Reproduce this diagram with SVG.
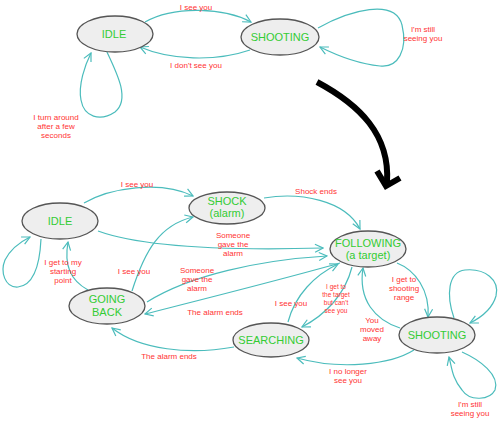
<svg xmlns="http://www.w3.org/2000/svg" width="500" height="429" viewBox="0 0 500 429">
<style>
.node{fill:#eeeeee;stroke:#555555;stroke-width:1.3}
.nt{font-family:"Liberation Sans",Arial,sans-serif;font-size:11px;fill:#33cc33;text-anchor:middle}
.lb{font-family:"Liberation Sans",Arial,sans-serif;font-size:8px;fill:#ff3333;text-anchor:middle}
.sm{font-size:6.5px}
.e{fill:none;stroke:#4bbcbc;stroke-width:1.2;marker-end:url(#a)}
</style>
<defs>
<marker id="a" markerUnits="userSpaceOnUse" markerWidth="10" markerHeight="10" viewBox="0 0 10 10" refX="9" refY="5" orient="auto">
<path d="M1,1 L9,5 L1,9" fill="none" stroke="#4bbcbc" stroke-width="1.2"/>
</marker>
</defs>
<rect width="500" height="429" fill="#ffffff"/>
<g id="connectors">
<path class="e" d="M145,22 C175,5 225,8 251,22"/>
<path class="e" d="M250,50 C215,62 170,60 140,47"/>
<path class="e" d="M318,28 C350,10 395,-2 402,25 C408,50 398,68 380,66 C360,64 340,57 320,47"/>
<path class="e" d="M107,52 C118,75 130,100 115,112 C100,122 84,117 81,100 C78,85 85,65 91,53"/>
<path class="e" d="M84,203 C110,188 160,180 193,196"/>
<path class="e" d="M264,198 C300,192 345,200 360,229"/>
<path class="e" d="M98,231 C150,250 250,250 323,248"/>
<path class="e" d="M132,291 C145,250 160,225 193,217"/>
<path class="e" d="M147,302 C190,275 260,260 327,256"/>
<path class="e" d="M340,263 C280,280 200,300 145,314"/>
<path class="e" d="M352,267 C345,295 325,315 302,327"/>
<path class="e" d="M288,322 C295,295 315,275 338,264"/>
<path class="e" d="M397,263 C415,270 430,290 428,317"/>
<path class="e" d="M400,328 C375,320 358,300 363,268"/>
<path class="e" d="M454,318 C446,295 448,272 465,270 C485,268 500,280 496,296 C492,310 480,318 470,323"/>
<path class="e" d="M462,352 C480,360 500,375 495,390 C490,400 470,402 462,390 C452,378 452,368 449,357"/>
<path class="e" d="M414,350 C390,365 340,370 297,358"/>
<path class="e" d="M234,347 C190,355 140,350 112,328"/>
<path class="e" d="M88,290 C70,280 64,265 68,242"/>
<path class="e" d="M41,239 C40,260 35,285 18,287 C5,288 0,272 5,260 C10,250 20,242 30,237"/>
</g>
<g id="big-arrow" fill="none" stroke="#000000" stroke-width="6">
<path d="M317,82 C360,105 390,135 387,182"/>
<polyline points="377,171 386,186 400,178" stroke-linejoin="miter"/>
</g>
<g id="labels">
<text class="lb" x="196" y="10">I see you</text>
<text class="lb" x="196" y="68">I don't see you</text>
<text class="lb" x="423" y="32">I'm still</text>
<text class="lb" x="423" y="41">seeing you</text>
<text class="lb" x="56" y="120">I turn around</text>
<text class="lb" x="56" y="129">after a few</text>
<text class="lb" x="56" y="138">seconds</text>
<text class="lb" x="137" y="187">I see you</text>
<text class="lb" x="316" y="194">Shock ends</text>
<text class="lb" x="233" y="238">Someone</text>
<text class="lb" x="233" y="247">gave the</text>
<text class="lb" x="233" y="256">alarm</text>
<text class="lb" x="134" y="274">I see you</text>
<text class="lb" x="197" y="273">Someone</text>
<text class="lb" x="197" y="282">gave the</text>
<text class="lb" x="197" y="291">alarm</text>
<text class="lb" x="215" y="315">The alarm ends</text>
<text class="lb sm" x="336" y="289">I get to</text>
<text class="lb sm" x="336" y="297">the target</text>
<text class="lb sm" x="336" y="305">but can't</text>
<text class="lb sm" x="336" y="313">see you</text>
<text class="lb" x="291" y="306">I see you</text>
<text class="lb" x="404" y="282">I get to</text>
<text class="lb" x="404" y="291">shooting</text>
<text class="lb" x="404" y="300">range</text>
<text class="lb" x="372" y="323">You</text>
<text class="lb" x="372" y="332">moved</text>
<text class="lb" x="372" y="341">away</text>
<text class="lb" x="348" y="374">I no longer</text>
<text class="lb" x="348" y="383">see you</text>
<text class="lb" x="470" y="407">I'm still</text>
<text class="lb" x="470" y="416">seeing you</text>
<text class="lb" x="169" y="359">The alarm ends</text>
<text class="lb" x="63" y="265">I get to my</text>
<text class="lb" x="63" y="274">starting</text>
<text class="lb" x="63" y="283">point</text>
</g>
<g id="idle-top"><ellipse class="node" cx="115" cy="34" rx="38" ry="18"/><text class="nt" x="114" y="38">IDLE</text></g>
<g id="shooting-top"><ellipse class="node" cx="280" cy="37" rx="39" ry="18"/><text class="nt" x="280" y="41">SHOOTING</text></g>
<g id="idle"><ellipse class="node" cx="60" cy="221" rx="38" ry="18"/><text class="nt" x="60" y="225">IDLE</text></g>
<g id="shock"><ellipse class="node" cx="227" cy="208" rx="38" ry="16"/><text class="nt" x="227" y="205">SHOCK</text><text class="nt" x="227" y="217">(alarm)</text></g>
<g id="following"><ellipse class="node" cx="368" cy="249" rx="38" ry="18"/><text class="nt" x="368" y="247">FOLLOWING</text><text class="nt" x="368" y="259">(a target)</text></g>
<g id="going-back"><ellipse class="node" cx="107" cy="306" rx="38" ry="18"/><text class="nt" x="107" y="303">GOING</text><text class="nt" x="107" y="316">BACK</text></g>
<g id="searching"><ellipse class="node" cx="271" cy="340" rx="38" ry="17"/><text class="nt" x="271" y="344">SEARCHING</text></g>
<g id="shooting"><ellipse class="node" cx="437" cy="335" rx="38" ry="18"/><text class="nt" x="437" y="339">SHOOTING</text></g>
</svg>
